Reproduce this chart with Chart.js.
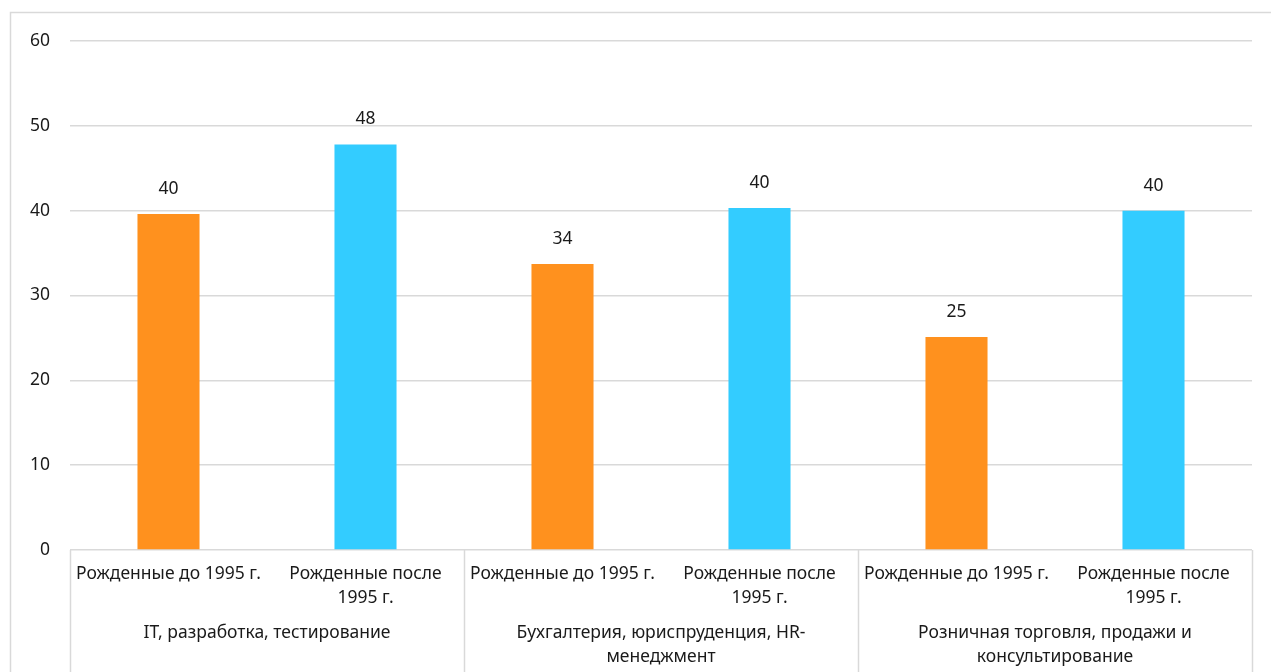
<!DOCTYPE html>
<html>
<head>
<meta charset="utf-8">
<script src="https://cdn.jsdelivr.net/npm/chart.js@4"></script>
<style>
html,body{margin:0;padding:0;background:#fff;overflow:hidden;}
#wrap{position:relative;width:1271px;height:672px;}
</style>
</head>
<body>
<div id="wrap"><canvas id="c" width="1271" height="672"></canvas></div>
<script>
const groups = [
  ['IT, разработка, тестирование'],
  ['Бухгалтерия, юриспруденция, HR-', 'менеджмент'],
  ['Розничная торговля, продажи и', 'консультирование']
];
const subLabels = [['Рожденные до 1995 г.'], ['Рожденные после', '1995 г.']];
const bornBefore1995 = [39.6, 33.7, 25.1];
const bornAfter1995 = [47.8, 40.3, 40.0];
const yTicks = [0, 10, 20, 30, 40, 50, 60];

const colorBefore = '#FF911E';
const colorAfter = '#33CCFF';
const FONT = '"Noto Sans", "Open Sans", sans-serif';
const FS = 17.5;
const TXT = '#1a1a1a';

const labels = [], values = [], colors = [];
groups.forEach((g, i) => {
  labels.push(subLabels[0]); values.push(bornBefore1995[i]); colors.push(colorBefore);
  labels.push(subLabels[1]); values.push(bornAfter1995[i]); colors.push(colorAfter);
});

const decorPlugin = {
  id: 'decor',
  beforeDraw(chart) {
    const ctx = chart.ctx;
    ctx.save();
    ctx.strokeStyle = '#d9d9d9';
    ctx.lineWidth = 1.5;
    ctx.strokeRect(10.5, 12.5, chart.width + 20, chart.height + 20);
    ctx.restore();
  },
  afterDraw(chart) {
    const ctx = chart.ctx;
    const ca = chart.chartArea;
    const meta = chart.getDatasetMeta(0);
    ctx.save();
    ctx.fillStyle = TXT;
    ctx.font = FS + 'px ' + FONT;
    ctx.textAlign = 'center';
    ctx.textBaseline = 'middle';
    meta.data.forEach((bar, i) => {
      ctx.fillText(String(Math.round(values[i])), bar.x, bar.y - 25);
    });
    ctx.strokeStyle = '#d9d9d9';
    ctx.lineWidth = 1.5;
    const n = groups.length;
    const gw = (ca.right - ca.left) / n;
    for (let i = 0; i <= n; i++) {
      const gx = Math.round(ca.left + gw * i) + 0.5;
      ctx.beginPath();
      ctx.moveTo(gx, ca.bottom);
      ctx.lineTo(gx, chart.height);
      ctx.stroke();
    }
    groups.forEach((g, i) => {
      const cx = ca.left + gw * (i + 0.5);
      g.forEach((line, j) => {
        ctx.fillText(line, cx, ca.bottom + 83 + j * 24);
      });
    });
    ctx.restore();
  }
};

new Chart(document.getElementById('c'), {
  type: 'bar',
  data: {
    labels: labels,
    datasets: [{
      data: values,
      backgroundColor: colors,
      borderWidth: 0,
      barPercentage: 0.315,
      categoryPercentage: 1
    }]
  },
  options: {
    responsive: false,
    animation: false,
    devicePixelRatio: 1,
    layout: { padding: { top: 41, right: 19, left: 0, bottom: 0 } },
    plugins: { legend: { display: false }, tooltip: { enabled: false }, title: { display: false } },
    scales: {
      x: {
        grid: { display: false },
        border: { display: false },
        ticks: {
          color: TXT,
          font: { family: FONT, size: FS, lineHeight: 24 / FS },
          padding: 4,
          maxRotation: 0,
          autoSkip: false
        },
        afterFit(s) { s.height = 122; }
      },
      y: {
        min: 0, max: 60,
        grid: { color: '#d9d9d9', lineWidth: 1.5, drawTicks: false },
        border: { display: false },
        afterBuildTicks(s) { s.ticks = yTicks.map(v => ({ value: v })); },
        ticks: {
          color: TXT,
          font: { family: FONT, size: FS },
          padding: 20
        },
        afterFit(s) { s.width = 70; }
      }
    }
  },
  plugins: [decorPlugin]
});
</script>
</body>
</html>
